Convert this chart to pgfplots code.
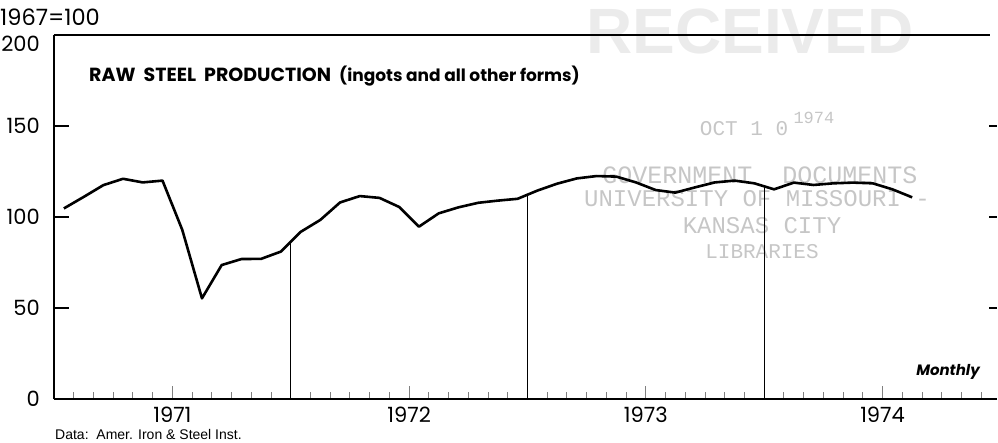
\documentclass[border=0pt]{standalone}
\usepackage{fontspec}
\setmainfont{Poppins}
\newfontfamily\datafont{Liberation Sans}
\newfontfamily\stampfont{Liberation Mono}
\usepackage{pgfplots}
\usepackage{pgfplotstable}
\pgfplotsset{compat=1.18}

\pgfplotstableread{
x y
0.5 104.7
1.5 111.0
2.5 117.5
3.5 121.0
4.5 119.0
5.5 120.0
6.5 93.0
7.5 55.3
8.5 73.6
9.5 76.9
10.5 77.0
11.5 81.0
12.5 91.8
13.5 98.4
14.5 108.0
15.5 111.5
16.5 110.5
17.5 105.5
18.5 94.7
19.5 102.0
20.5 105.3
21.5 107.8
22.5 109.0
23.5 110.0
24.5 114.5
25.5 118.3
26.5 121.2
27.5 122.5
28.5 122.2
29.5 119.0
30.5 114.8
31.5 113.4
32.5 116.3
33.5 119.0
34.5 120.0
35.5 118.5
36.5 115.2
37.5 118.9
38.5 117.6
39.5 118.5
40.5 118.9
41.5 118.5
42.5 115.2
43.5 110.8
}\steel

\begin{document}
\begin{tikzpicture}[x=1pt,y=1pt]
\path[use as bounding box] (-54,-43) rectangle (944,399);
% stamp (faint)
\node[text=gray!16, font=\datafont\bfseries\fontsize{64}{64}\selectfont, anchor=center] at (696,368) {RECEIVED};
\node[text=gray!45, font=\stampfont\fontsize{21}{21}\selectfont, anchor=base] at (690,263) {OCT 1 0};
\node[text=gray!45, font=\stampfont\fontsize{17}{17}\selectfont, anchor=base west] at (736,275) {1974};
\node[text=gray!45, font=\stampfont\fontsize{25}{25}\selectfont, anchor=center] at (706,224) {GOVERNMENT\ \ DOCUMENTS};
\node[text=gray!45, font=\stampfont\fontsize{24}{24}\selectfont, anchor=center] at (703,200) {UNIVERSITY OF MISSOURI -};
\node[text=gray!45, font=\stampfont\fontsize{24}{24}\selectfont, anchor=center] at (708,173) {KANSAS CITY};
\node[text=gray!45, font=\stampfont\fontsize{21}{21}\selectfont, anchor=center] at (708,147) {LIBRARIES};
\begin{axis}[
  at={(0,0)}, anchor=south west,
  scale only axis, width=943pt, height=364pt,
  xmin=0, xmax=47.8, ymin=0, ymax=200,
  axis x line*=bottom, axis y line*=left,
  x axis line style={-, line width=1.1pt},
  y axis line style={-, line width=1.1pt},
  tick align=inside,
  major tick length=13pt, minor tick length=7pt,
  xtick={6,18,30,42}, xticklabels={1971,1972,1973,1974},
  minor xtick={1,2,...,47},
  xtick style={line width=0.9pt},
  minor tick style={line width=0.9pt},
  xticklabel style={inner sep=0pt, anchor=north, yshift=-8pt},
  ytick={0,50,100,150}, yticklabels={0,50,100,150},
  ytick style={draw=none},
  extra y ticks={200}, extra y tick labels={200},
  extra y tick style={yticklabel style={yshift=-9pt}},
  yticklabel style={inner sep=0pt, anchor=east, xshift=-14pt},
  every tick label/.append style={font=\fontsize{21}{21}\selectfont},
  /pgf/number format/assume math mode=true,
  clip=false,
]
\addplot[black, line width=2.6pt, line join=round] table {\steel};
\addplot[black, line width=0.8pt] coordinates {(12,0) (12,86.4)};
\addplot[black, line width=0.8pt] coordinates {(24,0) (24,112.2)};
\addplot[black, line width=0.8pt] coordinates {(36,0) (36,116.9)};
\draw[line width=1.1pt] (axis cs:0,200) -- (axis cs:47.45,200);
\draw[line width=1.1pt] (axis cs:0,50) -- (axis cs:0.76,50);
\draw[line width=1.1pt] (axis cs:0,100) -- (axis cs:0.76,100);
\draw[line width=1.1pt] (axis cs:0,150) -- (axis cs:0.76,150);
\draw[line width=1.1pt] (axis cs:47.4,50) -- (axis cs:47.8,50);
\draw[line width=1.1pt] (axis cs:47.4,100) -- (axis cs:47.8,100);
\draw[line width=1.1pt] (axis cs:47.4,150) -- (axis cs:47.8,150);
\end{axis}
\node[anchor=west, font=\fontsize{22.5}{22.5}\selectfont, inner sep=0pt] at (-54,382) {1967{=}100};
\node[anchor=base west, inner sep=0pt] at (35,317) {\fontsize{19}{19}\selectfont\bfseries RAW\ \ STEEL\ \ PRODUCTION\ \ \fontsize{17}{17}\selectfont(ingots and all other forms)};
\node[anchor=base east, inner sep=0pt, font=\fontsize{15}{15}\selectfont\bfseries\itshape] at (926,24) {Monthly};
\node[anchor=base west, inner sep=0pt] at (1,-40.5) {\datafont\fontsize{14}{14}\selectfont Data:\ \ Amer. Iron \& Steel Inst.};
\end{tikzpicture}
\end{document}
